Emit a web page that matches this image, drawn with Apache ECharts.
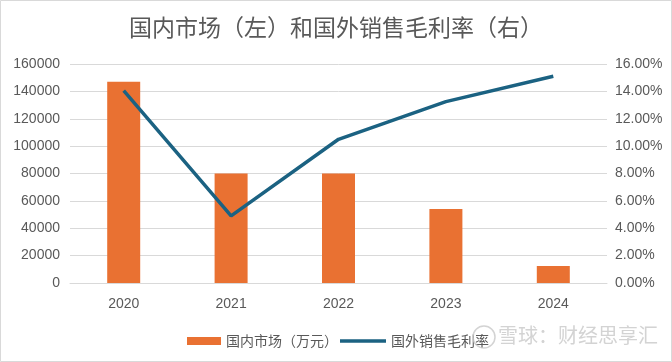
<!DOCTYPE html>
<html><head><meta charset="utf-8">
<script src="https://cdn.jsdelivr.net/npm/echarts@6/dist/echarts.min.js"></script>
<style>html,body{margin:0;padding:0;background:#fff}#c{width:672px;height:362px}</style>
</head><body><div id="c"></div>
<script>
const categories = ['2020','2021','2022','2023','2024'];
const domesticMarket = [147000, 80000, 80000, 54000, 12500];
const overseasMargin = [14.05, 4.9, 10.5, 13.25, 15.1];
const leftTicks = [0, 20000, 40000, 60000, 80000, 100000, 120000, 140000, 160000];
const rightTicks = [0, 2, 4, 6, 8, 10, 12, 14, 16];

const font = '"Noto Sans CJK SC", "Liberation Sans", sans-serif';
const numFont = '"Liberation Sans", sans-serif';
const chart = echarts.init(document.getElementById('c'));
chart.setOption({
  backgroundColor: '#fff',
  animation: false,
  title: {
    text: '国内市场（左）和国外销售毛利率（右）',
    left: 'center', top: 11,
    textStyle: { fontFamily: font, fontSize: 23, fontWeight: 'normal', color: '#595959' }
  },
  legend: [{
    top: 329, left: 182,
    itemWidth: 34, itemHeight: 8,
    textStyle: { fontFamily: font, fontSize: 14, color: '#595959' },
    data: [{ name: '国内市场（万元）', icon: 'rect' }]
  }, {
    top: 329, left: 335,
    itemWidth: 46, itemHeight: 8,
    textStyle: { fontFamily: font, fontSize: 14, color: '#595959' },
    data: [{ name: '国外销售毛利率', icon: 'path://M0 0h46v3.5h-46z' }]
  }],
  grid: { left: 70, right: 65, top: 64, bottom: 79 },
  xAxis: {
    type: 'category', data: categories,
    axisLine: { lineStyle: { color: '#d9d9d9' } },
    axisTick: { show: false },
    axisLabel: { fontFamily: numFont, fontSize: 14, color: '#595959', margin: 14 }
  },
  yAxis: [{
    type: 'value', min: leftTicks[0], max: leftTicks[leftTicks.length-1], interval: 20000,
    axisLine: { show: false }, axisTick: { show: false },
    splitLine: { lineStyle: { color: '#d9d9d9' } },
    axisLabel: { fontFamily: numFont, fontSize: 14, color: '#595959', margin: 10,
      formatter: v => String(v) }
  }, {
    type: 'value', min: rightTicks[0], max: rightTicks[rightTicks.length-1], interval: 2,
    axisLine: { show: false }, axisTick: { show: false }, splitLine: { show: false },
    axisLabel: { fontFamily: numFont, fontSize: 14, color: '#595959', margin: 8,
      formatter: v => v.toFixed(2) + '%' }
  }],
  series: [{
    name: '国内市场（万元）', type: 'bar', data: domesticMarket,
    barWidth: 33, itemStyle: { color: '#E97132' }
  }, {
    name: '国外销售毛利率', type: 'line', yAxisIndex: 1, data: overseasMargin,
    symbol: 'none', lineStyle: { color: '#1B6282', width: 3.5 }, itemStyle: { color: '#1B6282' }
  }],
  graphic: [{
    type: 'rect', shape: { x: 0.5, y: 0.5, width: 671, height: 361 },
    style: { fill: 'none', stroke: '#d9d9d9', lineWidth: 1 }, silent: true
  }, {
    type: 'circle', shape: { cx: 484, cy: 337, r: 11 },
    style: { fill: 'none', stroke: 'rgba(200,200,200,0.8)', lineWidth: 1.5 }, z: 10, silent: true
  }, {
    type: 'text', left: 498, top: 325,
    style: { text: '雪球：财经思享汇', fontFamily: font, fontSize: 20, fill: 'rgba(200,200,200,0.8)' }, z: 10
  }]
});
</script></body></html>
